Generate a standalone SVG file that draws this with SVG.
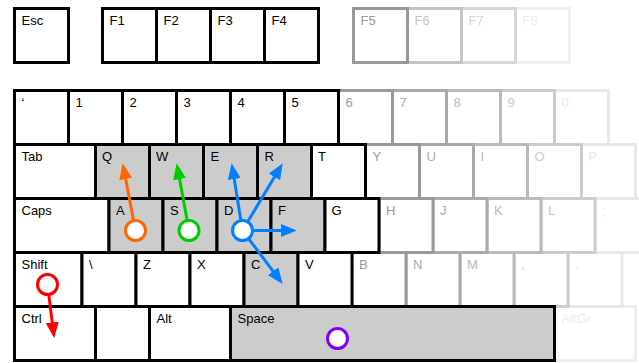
<svg xmlns="http://www.w3.org/2000/svg" width="639" height="363" viewBox="0 0 639 363">
<style>
.k rect{fill:#fff;stroke:#000;stroke-width:3}
.k.hl rect{fill:#ccc}
.k text{font-family:"Liberation Sans",Arial,sans-serif;font-size:13px;fill:#000}
.g1 rect{stroke:#999}.g1 text{fill:#999}
.g2 rect{stroke:#aaa}.g2 text{fill:#aaa}
.g3 rect{stroke:#bbb}.g3 text{fill:#bbb}
.g4 rect{stroke:#ccc}.g4 text{fill:#ccc}
.g5 rect{stroke:#e8e8e8}.g5 text{fill:#e8e8e8}
.f6 rect{stroke:#c4c4c4}.f6 text{fill:#c4c4c4}
.f7 rect{stroke:#d6d6d6}.f7 text{fill:#d6d6d6}
.f8 rect{stroke:#eee}.f8 text{fill:#eee}
.c line{stroke-width:3;fill:none}
.fing circle{fill:#fff;stroke-width:3}
</style>
<defs>
<marker id="ah-o" viewBox="0 0 16 13" markerWidth="16" markerHeight="13" refX="2" refY="6.5" orient="auto" markerUnits="userSpaceOnUse"><path d="M0,0 L16,6.5 L0,13 z" fill="#ff6600"/></marker>
<marker id="ah-g" viewBox="0 0 16 13" markerWidth="16" markerHeight="13" refX="2" refY="6.5" orient="auto" markerUnits="userSpaceOnUse"><path d="M0,0 L16,6.5 L0,13 z" fill="#00cc00"/></marker>
<marker id="ah-b" viewBox="0 0 16 13" markerWidth="16" markerHeight="13" refX="2" refY="6.5" orient="auto" markerUnits="userSpaceOnUse"><path d="M0,0 L16,6.5 L0,13 z" fill="#0080ff"/></marker>
<marker id="ah-r" viewBox="0 0 16 13" markerWidth="16" markerHeight="13" refX="2" refY="6.5" orient="auto" markerUnits="userSpaceOnUse"><path d="M0,0 L16,6.5 L0,13 z" fill="#ff0000"/></marker>
</defs>
<g id="keys">
<!-- lightest first -->
<g id="key-f8" class="k f8"><rect x="515.5" y="8.5" width="54" height="54"/><text x="522.5" y="25">F8</text></g>
<g id="key-altgr" class="k f8"><rect x="554.5" y="306.5" width="81" height="54"/><text x="561.5" y="323">AltGr</text></g>
<g id="key-0" class="k g5"><rect x="554.5" y="90.5" width="54" height="54"/><text x="561.5" y="107">0</text></g>
<g id="key-p" class="k g5"><rect x="581.5" y="144.5" width="54" height="54"/><text x="588.5" y="161">P</text></g>
<g id="key-semicolon" class="k g5"><rect x="595" y="198.5" width="54" height="54"/><text x="602" y="215">;</text></g>
<g id="key-period" class="k g5"><rect x="568" y="252.5" width="54" height="54"/><text x="575" y="269">.</text></g>
<g id="key-f7" class="k f7"><rect x="461.5" y="8.5" width="54" height="54"/><text x="468.5" y="25">F7</text></g>
<g id="key-9" class="k g4"><rect x="500.5" y="90.5" width="54" height="54"/><text x="507.5" y="107">9</text></g>
<g id="key-o" class="k g4"><rect x="527.5" y="144.5" width="54" height="54"/><text x="534.5" y="161">O</text></g>
<g id="key-l" class="k g4"><rect x="541" y="198.5" width="54" height="54"/><text x="548" y="215">L</text></g>
<g id="key-comma" class="k g4"><rect x="514" y="252.5" width="54" height="54"/><text x="521" y="269">,</text></g>
<g id="key-f6" class="k f6"><rect x="407.5" y="8.5" width="54" height="54"/><text x="414.5" y="25">F6</text></g>
<g id="key-8" class="k g3"><rect x="446.5" y="90.5" width="54" height="54"/><text x="453.5" y="107">8</text></g>
<g id="key-i" class="k g3"><rect x="473.5" y="144.5" width="54" height="54"/><text x="480.5" y="161">I</text></g>
<g id="key-k" class="k g3"><rect x="487" y="198.5" width="54" height="54"/><text x="494" y="215">K</text></g>
<g id="key-m" class="k g3"><rect x="460" y="252.5" width="54" height="54"/><text x="467" y="269">M</text></g>
<g id="key-7" class="k g2"><rect x="392.5" y="90.5" width="54" height="54"/><text x="399.5" y="107">7</text></g>
<g id="key-u" class="k g2"><rect x="419.5" y="144.5" width="54" height="54"/><text x="426.5" y="161">U</text></g>
<g id="key-j" class="k g2"><rect x="433" y="198.5" width="54" height="54"/><text x="440" y="215">J</text></g>
<g id="key-n" class="k g2"><rect x="406" y="252.5" width="54" height="54"/><text x="413" y="269">N</text></g>
<g id="key-f5" class="k g1"><rect x="353.5" y="8.5" width="54" height="54"/><text x="360.5" y="25">F5</text></g>
<g id="key-6" class="k g1"><rect x="338.5" y="90.5" width="54" height="54"/><text x="345.5" y="107">6</text></g>
<g id="key-y" class="k g1"><rect x="365.5" y="144.5" width="54" height="54"/><text x="372.5" y="161">Y</text></g>
<g id="key-h" class="k g1"><rect x="379" y="198.5" width="54" height="54"/><text x="386" y="215">H</text></g>
<g id="key-b" class="k g1"><rect x="352" y="252.5" width="54" height="54"/><text x="359" y="269">B</text></g>
<!-- black keys -->
<g id="key-esc" class="k"><rect x="14.5" y="8.5" width="54" height="54"/><text x="21.5" y="25">Esc</text></g>
<g id="key-f1" class="k"><rect x="102.5" y="8.5" width="54" height="54"/><text x="109.5" y="25">F1</text></g>
<g id="key-f2" class="k"><rect x="156.5" y="8.5" width="54" height="54"/><text x="163.5" y="25">F2</text></g>
<g id="key-f3" class="k"><rect x="210.5" y="8.5" width="54" height="54"/><text x="217.5" y="25">F3</text></g>
<g id="key-f4" class="k"><rect x="264.5" y="8.5" width="54" height="54"/><text x="271.5" y="25">F4</text></g>
<g id="key-backtick" class="k"><rect x="14.5" y="90.5" width="54" height="54"/><text x="21.5" y="107">‘</text></g>
<g id="key-1" class="k"><rect x="68.5" y="90.5" width="54" height="54"/><text x="75.5" y="107">1</text></g>
<g id="key-2" class="k"><rect x="122.5" y="90.5" width="54" height="54"/><text x="129.5" y="107">2</text></g>
<g id="key-3" class="k"><rect x="176.5" y="90.5" width="54" height="54"/><text x="183.5" y="107">3</text></g>
<g id="key-4" class="k"><rect x="230.5" y="90.5" width="54" height="54"/><text x="237.5" y="107">4</text></g>
<g id="key-5" class="k"><rect x="284.5" y="90.5" width="54" height="54"/><text x="291.5" y="107">5</text></g>
<g id="key-tab" class="k"><rect x="14.5" y="144.5" width="81" height="54"/><text x="21.5" y="161">Tab</text></g>
<g id="key-q" class="k hl"><rect x="95.5" y="144.5" width="54" height="54"/><text x="102" y="161">Q</text></g>
<g id="key-w" class="k hl"><rect x="149.5" y="144.5" width="54" height="54"/><text x="156" y="161">W</text></g>
<g id="key-e" class="k hl"><rect x="203.5" y="144.5" width="54" height="54"/><text x="210.5" y="161">E</text></g>
<g id="key-r" class="k hl"><rect x="257.5" y="144.5" width="54" height="54"/><text x="264.5" y="161">R</text></g>
<g id="key-t" class="k"><rect x="311.5" y="144.5" width="54" height="54"/><text x="318" y="161">T</text></g>
<g id="key-caps" class="k"><rect x="14.5" y="198.5" width="94.5" height="54"/><text x="21.5" y="215">Caps</text></g>
<g id="key-a" class="k hl"><rect x="109" y="198.5" width="54" height="54"/><text x="116" y="215">A</text></g>
<g id="key-s" class="k hl"><rect x="163" y="198.5" width="54" height="54"/><text x="170" y="215">S</text></g>
<g id="key-d" class="k hl"><rect x="217" y="198.5" width="54" height="54"/><text x="224" y="215">D</text></g>
<g id="key-f" class="k hl"><rect x="271" y="198.5" width="54" height="54"/><text x="278" y="215">F</text></g>
<g id="key-g" class="k"><rect x="325" y="198.5" width="54" height="54"/><text x="331.5" y="215">G</text></g>
<g id="key-shift" class="k"><rect x="14.5" y="252.5" width="67.5" height="54"/><text x="21.5" y="269">Shift</text></g>
<g id="key-backslash" class="k"><rect x="82" y="252.5" width="54" height="54"/><text x="89" y="269">\</text></g>
<g id="key-z" class="k"><rect x="136" y="252.5" width="54" height="54"/><text x="143" y="269">Z</text></g>
<g id="key-x" class="k"><rect x="190" y="252.5" width="54" height="54"/><text x="197" y="269">X</text></g>
<g id="key-c" class="k hl"><rect x="244" y="252.5" width="54" height="54"/><text x="251" y="269">C</text></g>
<g id="key-v" class="k"><rect x="298" y="252.5" width="54" height="54"/><text x="305" y="269">V</text></g>
<g id="key-ctrl" class="k"><rect x="14.5" y="306.5" width="81" height="54"/><text x="21.5" y="323">Ctrl</text></g>
<g id="key-blank" class="k"><rect x="95.5" y="306.5" width="54" height="54"/></g>
<g id="key-alt" class="k"><rect x="149.5" y="306.5" width="81" height="54"/><text x="156.5" y="323">Alt</text></g>
<g id="key-space" class="k hl"><rect x="230.5" y="306.5" width="324" height="54"/><text x="237.5" y="323">Space</text></g>
</g>
<g id="connectors" class="c">
<line x1="135.5" y1="230.5" x2="125.3" y2="177.1" stroke="#ff6600" marker-end="url(#ah-o)"/>
<line x1="189" y1="230.5" x2="179.2" y2="177.1" stroke="#00cc00" marker-end="url(#ah-g)"/>
<line x1="242.5" y1="230.5" x2="233.9" y2="177.1" stroke="#0080ff" marker-end="url(#ah-b)"/>
<line x1="242.5" y1="230.5" x2="275.5" y2="175.3" stroke="#0080ff" marker-end="url(#ah-b)"/>
<line x1="242.5" y1="230.5" x2="282.7" y2="230.5" stroke="#0080ff" marker-end="url(#ah-b)"/>
<line x1="242.5" y1="230.5" x2="274.3" y2="272.8" stroke="#0080ff" marker-end="url(#ah-b)"/>
<line x1="47.5" y1="284.5" x2="52.5" y2="324.4" stroke="#ff0000" marker-end="url(#ah-r)"/>
</g>
<g id="fingers" class="fing">
<g id="finger-orange"><circle cx="135.5" cy="230.5" r="10" stroke="#ff6600"/></g>
<g id="finger-green"><circle cx="189" cy="230.5" r="10" stroke="#00cc00"/></g>
<g id="finger-blue"><circle cx="242.5" cy="230.5" r="10" stroke="#0080ff"/></g>
<g id="finger-red"><circle cx="47.5" cy="284.5" r="10" stroke="#ff0000"/></g>
<g id="finger-purple"><circle cx="337.5" cy="338.5" r="10" stroke="#8000ff"/></g>
</g>
</svg>
